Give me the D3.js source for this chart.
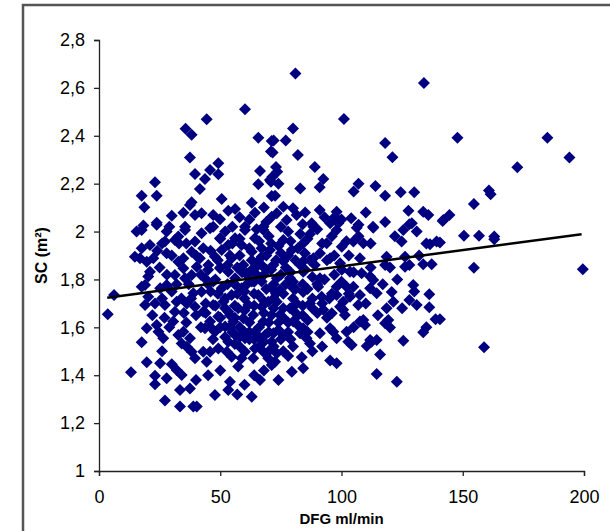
<!DOCTYPE html>
<meta charset="utf-8">
<html>
  <head>
    <title>SC vs DFG</title>
    <script src="https://d3js.org/d3.v7.min.js"></script>
    <style>
      body { margin: 0; background: #fff; }
      text { font-family: "Liberation Sans", Arial, sans-serif; }
    </style>
  </head>
  <body>
    <div id="chart"></div>
  </body>
  <script>
    var width = 610, height = 531;
    var margin = {left: 99, right: 26, top: 40, bottom: 60};

    // [DFG ml/min, SC m2]
    var points = [
      [81,2.66],[134,2.62],[101,2.47],[80,2.43],[72,2.38],[77,2.38],[71.6,2.33],[82,2.32],[118,2.37],[121,2.31],
      [73,2.27],[73.5,2.25],[89,2.27],[92.5,2.22],[91,2.185],[83,2.18],[72.6,2.15],[70.5,2.215],[107,2.2],[105,2.167],
      [114,2.19],[118,2.15],[124.4,2.164],[130,2.164],[91,2.09],[98,2.083],[104,2.056],[127.6,2.087],[133.7,2.083],[135.8,2.069],
      [142,2.048],[87.7,2.035],[95.3,2.035],[113,2.02],[128,2.03],[71.5,2.229],[74,2.2],[76,2.104],[80,2.097],[81.5,2.069],
      [73.3,2.076],[77.4,2.048],[97.3,2.062],[98.7,2.035],[107,2.028],[129,2.035],
      [60.2,2.511],[44.4,2.469],[35.7,2.429],[38.2,2.404],[65.7,2.392],[71.2,2.378],[70.9,2.334],[37.5,2.309],[49.2,2.285],[45.8,2.257],
      [39.6,2.24],[49.2,2.239],[43.7,2.22],[66.4,2.253],[70.9,2.208],[65.7,2.198],[23.1,2.206],[17.6,2.15],[23.8,2.15],[18.7,2.101],
      [41.6,2.178],[38.2,2.122],[37.5,2.111],[50.6,2.136],[53.3,2.087],[56.1,2.094],[30,2.066],[34.8,2.079],[39.6,2.069],[42.3,2.076],
      [47.1,2.069],[49.9,2.051],[64.3,2.079],[71.2,2.062],[71.2,2.149],[23.8,2.037],[18.3,2.025],[35.5,2.02],[47.1,2.02],[60.2,2.02],[67.8,2.02],
      [147.8,2.392],[184.9,2.392],[194,2.309],[172.5,2.269],[160.8,2.171],[161.5,2.156],[154.6,2.115],[144.5,2.069],[141.7,2.044],[150.5,1.983],
      [156.7,1.983],[163,1.979],[163,1.968],[140.6,1.954],[154.6,1.849],[199.5,1.843],[158.8,1.517],[140.6,1.634],
      [125.5,1.544],[133.7,1.579],[138.8,1.634],[136.2,1.684],[136.2,1.738],[131,1.693],[129.6,1.777],[128,1.714],[120.7,1.748],[121.4,1.707],
      [118.6,1.68],[119.3,1.631],[120,1.599],[118,1.617],[122.8,1.373],[114.5,1.405],[115.9,1.487],[112.4,1.54],[110.4,1.522],[107.6,1.624],
      [109.7,1.61],[102.1,1.582],[102.8,1.54],[104.2,1.526],[95.3,1.461],[96.6,1.582],[98,1.554],[92.5,1.673],[100.7,1.673],[100.7,1.707],
      [98,1.735],[104.9,1.77],[107.6,1.735],[111.8,1.763],[113.1,1.798],[114.5,1.742],[103.5,1.832],[99.4,1.868],[108.3,1.826],[111.8,1.812],
      [118.6,1.895],[118,1.86],[126.2,1.895],[126.2,1.853],[133.7,1.863],[137.2,1.863],[136.5,1.947],[139.2,1.958],[124.8,1.958],[125.5,2.007],
      [113.1,2.016],[107.6,1.888],[109,1.951],[104.9,1.958],[100.1,1.937],[93.9,1.951],[95.3,1.888],[91.1,1.909],[88.4,1.888],[84.2,1.951],
      [84.9,1.909],[79.5,1.923],[76,1.965],[98,2.007],[106.3,2.016],[88.4,2.02],[100.1,1.84],[91.1,1.805],[90.4,1.77],[98,1.77],
      [99.4,1.686],[101.4,1.652],[84.2,1.596],[85.6,1.554],[87,1.533],[82.9,1.575],[91.1,1.575],[95.3,1.596],[84.2,1.429],[83.6,1.475],
      [79.5,1.415],[72.6,1.456],[73.3,1.492],[71.9,1.575],[76,1.568],[80.1,1.624],[78.8,1.68],[74.6,1.652],[91.8,1.728],[87,1.7],
      [81.5,1.7],[73.3,1.707],[74.6,1.756],[80.1,1.763],[84.2,1.748],[78.8,1.805],[73.3,1.805],[84.2,1.832],[76,1.876],[71.9,1.86],
      [84.2,1.876],[102.1,1.77],[103.5,1.728],[106.9,1.693],[109,1.631],[111.8,1.547],[114.5,1.547],[96,1.659],
      [3.6,1.655],[6.2,1.735],[13.2,1.412],[17.6,1.538],[19.7,1.454],[23.1,1.398],[23.1,1.362],[25.2,1.45],[27.9,1.387],[27.2,1.294],
      [30,1.446],[32,1.422],[34.1,1.401],[33.4,1.338],[33.4,1.269],[37.5,1.345],[38.9,1.269],[40.3,1.269],[44.4,1.456],[47.8,1.317],
      [53.3,1.338],[54,1.373],[63,1.31],[66.4,1.38],[63.6,1.471],[71.2,1.443],[19.7,1.596],[23.8,1.61],[26.5,1.554],[24.5,1.582],
      [32.7,1.568],[34.1,1.533],[36.2,1.519],[38.2,1.498],[37.5,1.554],[34.8,1.582],[39.6,1.471],[43,1.498],[45.8,1.498],[49.2,1.512],
      [52.7,1.498],[54.7,1.477],[58.8,1.471],[57.4,1.436],[30.6,1.624],[31.3,1.665],[32,1.707],[27.2,1.693],[23.1,1.7],[19,1.693],
      [20.3,1.728],[19,1.777],[17.6,1.77],[25.2,1.763],[27.9,1.777],[20.3,1.812],[21,1.832],[16.9,1.888],[14.8,1.895],[19.7,1.874],
      [22.4,1.888],[17.6,1.93],[21,1.944],[17.6,2.007],[15.5,2.0],[23.8,2.028],[27.9,2.0],[27.2,1.958],[31.3,1.965],[27.9,1.909],
      [32.7,1.874],[34.8,1.847],[31.3,1.819],[35.5,1.805],[38.2,1.819],[34.8,1.888],[38.2,1.916],[32.7,1.979],[35.5,2.007],[39.6,1.958],
      [42.3,1.993],[45.8,2.014],[49.9,1.972],[43,1.93],[41.6,1.888],[40.3,1.853],[45.1,1.86],[47.8,1.895],[50.6,1.923],[53.3,1.944],
      [56.1,1.972],[60.2,2.007],[64.3,1.972],[67.8,2.007],[58.8,1.944],[63,1.916],[67.1,1.895],[70.5,1.923],[54.7,1.888],[59.5,1.86],
      [64.3,1.847],[69.1,1.84],[43.7,1.805],[47.1,1.791],[50.6,1.763],[42.3,1.749],[38.9,1.742],[36.2,1.7],[39.6,1.686],[43,1.665],
      [47.1,1.693],[51.3,1.707],[54.7,1.735],[58.8,1.763],[63,1.791],[67.1,1.791],[71.2,1.763],[56.1,1.805],[53.3,1.832],[49.9,1.847],
      [60.9,1.826],[65.7,1.735],[69.8,1.707],[67.1,1.686],[61.6,1.693],[57.4,1.68],[53.3,1.665],[49.2,1.645],[45.8,1.624],[43.7,1.596],
      [47.8,1.582],[52,1.603],[55.4,1.624],[59.5,1.638],[63.6,1.652],[67.8,1.624],[71.2,1.652],[56.1,1.568],[60.2,1.554],[64.3,1.582],
      [68.5,1.568],[71.2,1.54],[64.3,1.512],[67.8,1.498],[69.8,1.471],[53.3,1.54],[60.2,1.498],
      [55,1.95],[58,1.9],[62,1.93],[66,1.96],[70,1.98],[74,1.94],[78,1.9],[82,1.93],[86,1.97],[57,1.85],
      [61,1.82],[65,1.87],[69,1.9],[73,1.88],[77,1.85],[81,1.88],[85,1.84],[89,1.86],[56,1.78],[60,1.75],
      [64,1.79],[68,1.82],[72,1.78],[76,1.74],[80,1.79],[84,1.78],[88,1.81],[52,1.72],[56,1.69],[60,1.72],
      [64,1.74],[68,1.71],[72,1.72],[76,1.68],[80,1.72],[84,1.69],[88,1.72],[54,1.65],[58,1.6],[62,1.62],
      [66,1.6],[70,1.62],[74,1.59],[78,1.62],[82,1.65],[86,1.63],[48,1.8],[50,1.85],[46,1.75],[44,1.7],
      [42,1.82],[52,2.0],[62,2.05],[75,2.02],[87,1.99],[92,1.95],[94,1.88],[93,1.8],[95,1.72],[90,1.66],
      [66,1.52],[62,1.55],[70,1.5],[58,1.52],[75,1.55],[78,1.48],[55,1.58],[50,1.6],[47,1.55],[42,1.6],
      [40,1.65],[36,1.62],[30,1.75],[34,1.72],[37,1.78],[40,1.9],[36,1.95],[30,1.9],[25,1.85],[26,1.95],
      [22,1.65],[29,1.6],[26,1.5],[45,1.4],[50,1.42],[40,1.38],[57,1.32],[60,1.36],[68,1.42],[64,1.4],
      [74,1.38],[79,1.55],[88,1.5],[92,1.52],[98,1.45],[105,1.6],[110,1.7],[115,1.65],[117,1.78],[120,1.85],
      [123,1.8],[128,1.86],[132,1.9],[107,1.98],[112,1.95],[103,1.9],[96,1.98],[100,2.05],[110,2.08],[118,2.04],
      [122,1.98],[131,2.0],[135,1.95],[130,1.75],[125,1.68],[135,1.6],[112,1.85],[97,1.82],[105,1.83],
      [46,1.92],[50,1.97],[54,1.9],[58,1.97],[63,1.88],[67,1.93],[71,1.95],[75,1.91],[79,1.96],[83,1.99],
      [45,1.84],[49,1.88],[53,1.86],[59,1.83],[63,1.84],[67,1.86],[71,1.84],[75,1.82],[79,1.83],[83,1.86],[87,1.88],
      [45,1.78],[49,1.74],[53,1.78],[57,1.74],[61,1.78],[65,1.82],[69,1.76],[73,1.74],[77,1.78],[81,1.76],[86,1.76],[90,1.78],
      [44,1.66],[48,1.69],[52,1.68],[56,1.64],[60,1.67],[64,1.69],[68,1.66],[72,1.68],[76,1.64],[80,1.67],[84,1.65],[88,1.68],[92,1.7],
      [46,1.6],[50,1.64],[54,1.6],[58,1.56],[62,1.58],[66,1.56],[70,1.58],[74,1.62],[78,1.58],[82,1.61],[86,1.58],
      [52,1.56],[56,1.53],[60,1.58],[64,1.55],[68,1.54],[72,1.52],[76,1.5],[80,1.52],
      [55,2.02],[58,2.06],[65,2.01],[69,2.04],[78,2.0],[84,2.03],[90,2.01],[93,2.06],[85,2.08],[68,2.1],[63,2.12],
      [28,1.82],[32,1.78],[26,1.72],[24,1.92],[33,1.95],[29,2.02],[38,1.72],[35,1.66],[27,1.64],
      [96,1.74],[100,1.79],[103,1.74],[94,1.64],[97,1.9],[102,1.96]
    ];

    // trend line end points
    var trendX = [3.4, 199];
    var trendY = [1.724, 1.989];

    var xTicks = [0, 50, 100, 150, 200];
    var yTicks = [1, 1.2, 1.4, 1.6, 1.8, 2, 2.2, 2.4, 2.6, 2.8];

    var svg = d3.select("#chart").append("svg")
      .attr("width", width)
      .attr("height", height);

    // outer frame
    svg.append("rect")
      .attr("x", 23).attr("y", 5)
      .attr("width", 640).attr("height", 600)
      .attr("fill", "none")
      .attr("stroke", "#555")
      .attr("stroke-width", 2.5);

    var x = d3.scaleLinear().domain([0, 200]).range([margin.left, width - margin.right]);
    var y = d3.scaleLinear().domain([1, 2.8]).range([471, margin.top]);

    var comma = function(d){ return String(d).replace(".", ","); };

    var yAxis = svg.append("g")
      .attr("transform", "translate(" + margin.left + ",0)")
      .call(d3.axisLeft(y).tickValues(yTicks).tickFormat(comma).tickSize(5).tickPadding(9));
    var xAxis = svg.append("g")
      .attr("transform", "translate(0,471)")
      .call(d3.axisBottom(x).tickValues(xTicks).tickSize(5).tickPadding(14));

    [xAxis, yAxis].forEach(function(a){
      a.selectAll("path, line").attr("stroke", "#222").attr("stroke-width", 1.3);
      a.selectAll("text").attr("fill", "#000")
        .style("font-size", "18px")
        .style("font-family", "'Liberation Sans', Arial, sans-serif");
    });

    // points
    var diamond = d3.symbol().type(d3.symbolSquare).size(72);
    svg.append("g").selectAll("path")
      .data(points).enter().append("path")
      .attr("d", diamond)
      .attr("transform", function(d){ return "translate(" + x(d[0]) + "," + y(d[1]) + ") rotate(45)"; })
      .attr("fill", "#000080");

    // trend line
    svg.append("line")
      .attr("x1", x(trendX[0])).attr("y1", y(trendY[0]))
      .attr("x2", x(trendX[1])).attr("y2", y(trendY[1]))
      .attr("stroke", "#000")
      .attr("stroke-width", 2.5);

    // axis titles
    svg.append("text")
      .text("DFG ml/min")
      .attr("x", (x(0) + x(200)) / 2)
      .attr("y", 524)
      .attr("text-anchor", "middle")
      .style("font-size", "15px")
      .style("font-weight", "bold");

    svg.append("text")
      .text("SC (m²)")
      .attr("transform", "translate(47," + (y(1.9)) + ") rotate(-90)")
      .attr("text-anchor", "middle")
      .style("font-size", "16px")
      .style("font-weight", "bold");
  </script>
</html>
